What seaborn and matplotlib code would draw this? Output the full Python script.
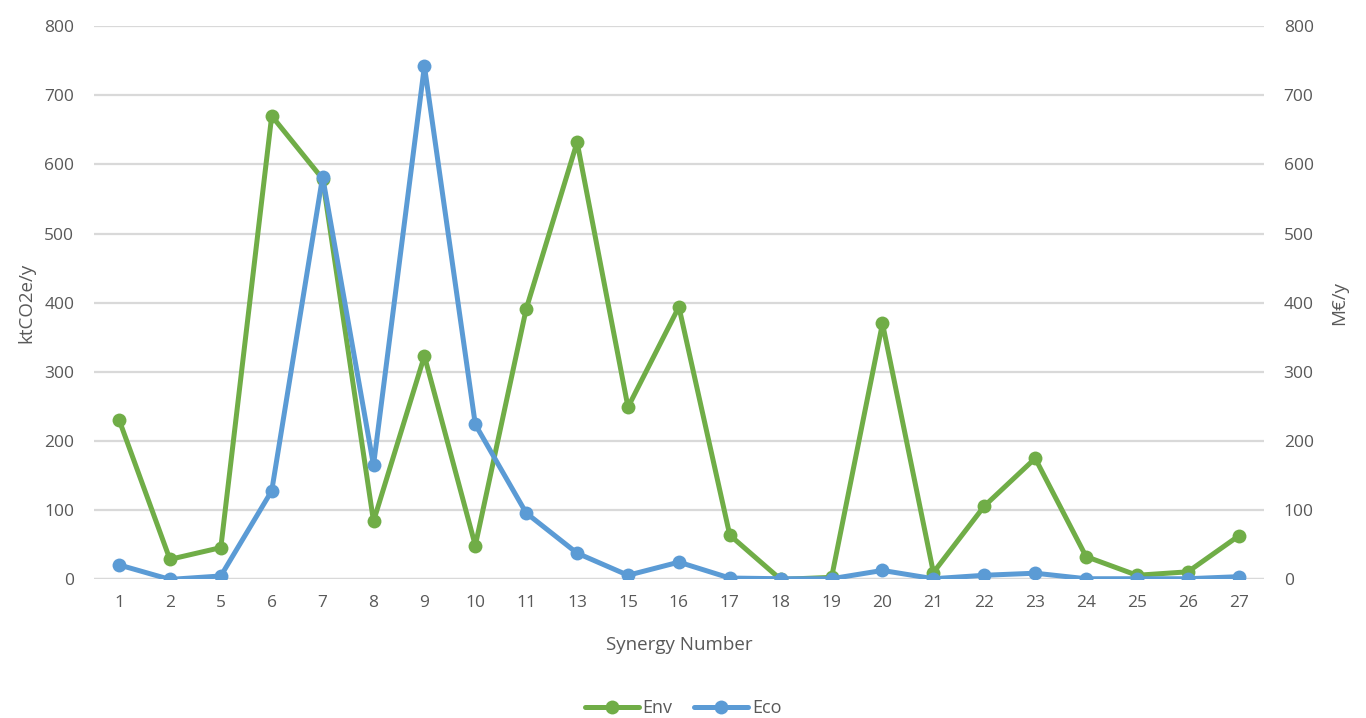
import matplotlib
matplotlib.use("Agg")
import matplotlib.pyplot as plt
import seaborn as sns
import pandas as pd
import numpy as np

# Synergy categories and annual impacts
synergies = ["1", "2", "5", "6", "7", "8", "9", "10", "11", "13", "15", "16",
             "17", "18", "19", "20", "21", "22", "23", "24", "25", "26", "27"]
env_kt = [231, 29, 46, 670, 579, 84, 323, 49, 391, 632, 249, 394,
          64, 0, 3, 370, 10, 106, 175, 33, 6, 11, 63]
eco_meur = [21, 0, 5, 128, 582, 165, 742, 224, 96, 38, 6, 25,
            2, 1, 1, 13, 1, 6, 9, 1, 1, 1, 4]

GREEN = "#70AD47"
BLUE = "#5B9BD5"
TEXT = "#595959"
GRID = "#D9D9D9"

sns.set_theme(style="white")
plt.rcParams["font.family"] = ["Open Sans", "DejaVu Sans"]

df = pd.DataFrame({
    "pos": np.arange(len(synergies)),
    "Env": env_kt,
    "Eco": eco_meur,
})

fig = plt.figure(figsize=(13.66, 7.18), dpi=100)
ax = fig.add_axes([0.0685, 0.193, 0.857, 0.7708])
ax2 = ax.twinx()

sns.lineplot(data=df, x="pos", y="Env", ax=ax, color=GREEN, linewidth=3.6,
             marker="o", markersize=10, markeredgewidth=0, label="Env",
             legend=False)
sns.lineplot(data=df, x="pos", y="Eco", ax=ax2, color=BLUE, linewidth=3.6,
             marker="o", markersize=10, markeredgewidth=0, label="Eco",
             legend=False)

for a in (ax, ax2):
    a.set_ylim(0, 800)
    a.set_yticks(range(0, 801, 100))
    a.set_xlim(-0.5, len(synergies) - 0.5)
    for s in a.spines.values():
        s.set_visible(False)
    a.tick_params(axis="both", length=0, labelsize=12.5, labelcolor=TEXT)

ax.set_xticks(df["pos"])
ax.set_xticklabels(synergies)
ax.tick_params(axis="x", pad=11)
ax.tick_params(axis="y", pad=14)
ax2.tick_params(axis="y", pad=14)

ax.yaxis.grid(True, color=GRID, linewidth=1.6)
ax.set_axisbelow(True)
ax2.grid(False)

ax.axhline(0, color=GRID, linewidth=1.6, zorder=0)

ax.set_xlabel("Synergy Number", fontsize=13.5, color=TEXT, labelpad=18)
ax.set_ylabel("ktCO2e/y", fontsize=13.5, color=TEXT, labelpad=6)
ax2.set_ylabel("M€/y", fontsize=13.5, color=TEXT, labelpad=12)

handles = ax.get_lines()[:1] + ax2.get_lines()[:1]
fig.legend(handles, ["Env", "Eco"], loc="center", bbox_to_anchor=(0.5, 0.014),
           ncol=2, frameon=False, fontsize=13, labelcolor=TEXT,
           handlelength=3.0, handletextpad=0.2, columnspacing=1.2)

fig.savefig("out.png", dpi=100)
